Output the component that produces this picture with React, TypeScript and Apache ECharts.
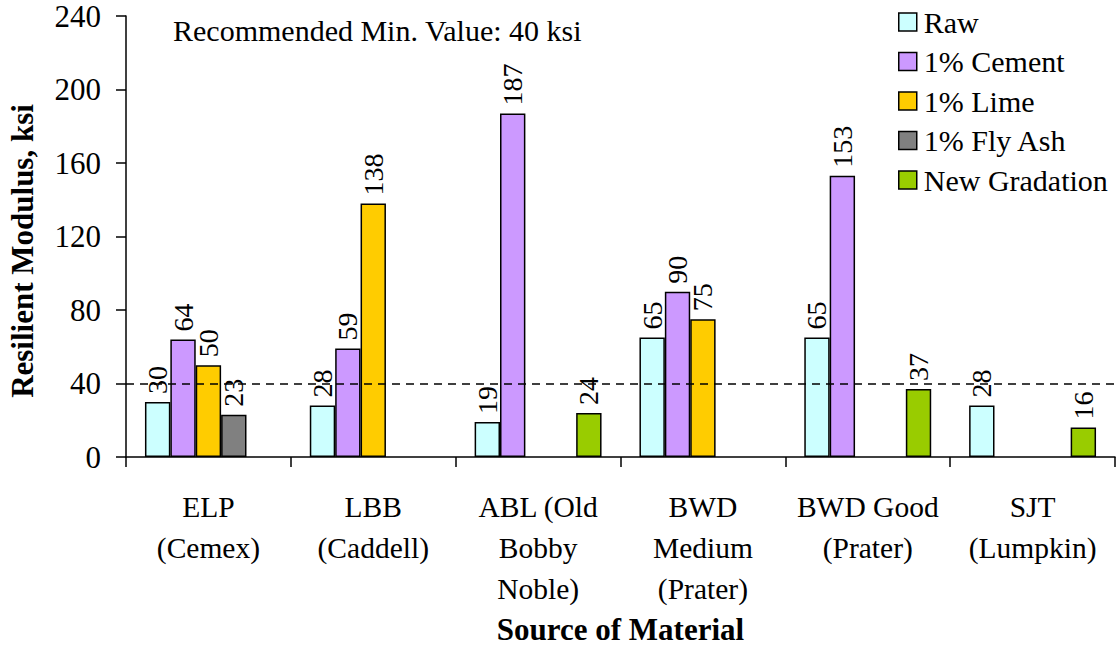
import React, { useEffect, useRef } from "react";
import * as echarts from "echarts";

const categories = [
  "ELP\n(Cemex)",
  "LBB\n(Caddell)",
  "ABL (Old\nBobby\nNoble)",
  "BWD\nMedium\n(Prater)",
  "BWD Good\n(Prater)",
  "SJT\n(Lumpkin)",
];
const seriesNames = ["Raw", "1% Cement", "1% Lime", "1% Fly Ash", "New Gradation"];
const rawValues = [30, 28, 19, 65, 65, 28];
const cementValues = [64, 59, 187, 90, 153, null];
const limeValues = [50, 138, null, 75, null, null];
const flyAshValues = [23, null, null, null, null, null];
const newGradationValues = [null, null, 24, null, 37, 16];
const recommendedMin = 40;
const yTicks = { min: 0, max: 240, interval: 40 };

const colors = ["#CCFFFF", "#CC99FF", "#FFCC00", "#808080", "#99CC00"];
const FONT = "Liberation Serif";

export default function App() {
  const ref = useRef<HTMLDivElement>(null);
  useEffect(() => {
    if (!ref.current) return;
    const chart = echarts.init(ref.current, null, { renderer: "svg" });
    const allValues = [rawValues, cementValues, limeValues, flyAshValues, newGradationValues];
    const series: any[] = allValues.map((vals, i) => ({
      name: seriesNames[i],
      type: "bar",
      data: vals,
      barGap: "0%",
      barCategoryGap: "23%",
      itemStyle: { color: colors[i], borderColor: "#000", borderWidth: 1.5 },
      label: {
        show: true,
        position: "top",
        rotate: 90,
        align: "left",
        verticalAlign: "middle",
        distance: 8,
        fontFamily: FONT,
        fontSize: 28,
        color: "#000",
      },
      ...(i === 0
        ? {
            markLine: {
              silent: true,
              symbol: "none",
              label: { show: false },
              lineStyle: { color: "#000", type: [8, 6], width: 1.5 },
              data: [{ yAxis: recommendedMin }],
            },
          }
        : {}),
    }));
    chart.setOption({
      animation: false,
      textStyle: { fontFamily: FONT },
      grid: { left: 126, right: 3, top: 16, bottom: 189, containLabel: false, outerBoundsMode: "none" },
      title: {
        text: "Recommended Min. Value: 40 ksi",
        left: 168,
        top: 10,
        textStyle: { fontFamily: FONT, fontSize: 30, fontWeight: "normal", color: "#000" },
      },
      legend: {
        orient: "vertical",
        left: 893,
        top: 2,
        itemWidth: 18,
        itemHeight: 18,
        itemGap: 9.5,
        icon: "rect",
        itemStyle: { borderColor: "#000", borderWidth: 1.5 },
        textStyle: { fontFamily: FONT, fontSize: 30, color: "#000", padding: [0, 0, 0, 2] },
        data: seriesNames,
      },
      xAxis: {
        type: "category",
        data: categories,
        axisLine: { lineStyle: { color: "#000", width: 1.5 } },
        axisTick: { show: true, length: 10, inside: false, lineStyle: { color: "#000", width: 1.5 } },
        axisLabel: {
          interval: 0,
          margin: 29,
          fontFamily: FONT,
          fontSize: 29.5,
          lineHeight: 41,
          color: "#000",
          verticalAlign: "top",
        },
        name: "Source of Material",
        nameLocation: "middle",
        nameGap: 155,
        nameTextStyle: { fontFamily: FONT, fontSize: 31, fontWeight: "bold", color: "#000" },
      },
      yAxis: {
        type: "value",
        min: yTicks.min,
        max: yTicks.max,
        interval: yTicks.interval,
        splitLine: { show: false },
        axisLine: { show: true, lineStyle: { color: "#000", width: 1.5 } },
        axisTick: { show: true, length: 10, lineStyle: { color: "#000", width: 1.5 } },
        axisLabel: { margin: 25, fontFamily: FONT, fontSize: 31, color: "#000" },
      },
      graphic: [
        {
          type: "text",
          x: 22,
          y: 251,
          rotation: Math.PI / 2,
          style: {
            text: "Resilient Modulus, ksi",
            fontFamily: FONT,
            fontSize: 31,
            fontWeight: "bold",
            fill: "#000",
            align: "center",
            verticalAlign: "middle",
          },
        },
      ],
      series,
    });
    return () => chart.dispose();
  }, []);
  return <div ref={ref} style={{ width: 1118, height: 646, position: "absolute", left: 0, top: 0 }} />;
}
